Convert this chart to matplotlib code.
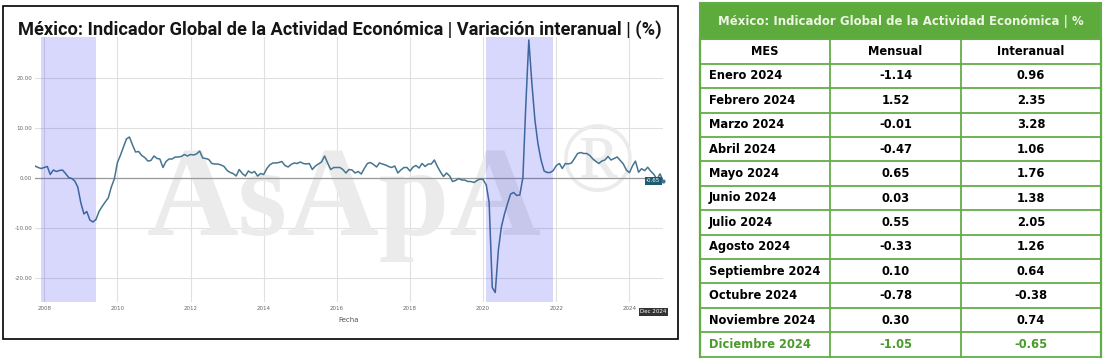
import matplotlib
matplotlib.use('Agg')
import matplotlib.pyplot as plt
import matplotlib.dates as mdates
import matplotlib.ticker as mticker
from matplotlib.patches import Rectangle
import pandas as pd

# ---------------- data ----------------
start_month = '2007-10-01'
igae_yoy = [
    2.3, 2.0, 1.8,                                                   # 2007 Oct-Dec
    2.0, 2.2, 0.6, 1.5, 1.2, 1.4, 1.5, 0.8, 0.0, -0.2, -0.7, -1.9,   # 2008
    -5.1, -7.3, -6.8, -8.5, -8.9, -8.4, -6.8, -5.8, -4.9, -4.1, -1.9, -0.3,  # 2009
    3.0, 4.5, 6.0, 7.7, 8.1, 6.5, 5.1, 5.2, 4.4, 4.0, 3.3, 3.4,      # 2010
    4.3, 3.8, 3.7, 2.0, 3.2, 3.7, 3.7, 4.1, 4.1, 4.2, 4.6, 4.3,      # 2011
    4.6, 4.5, 4.7, 5.3, 3.9, 3.8, 3.6, 2.8, 2.7, 2.7, 2.5, 2.2,      # 2012
    1.4, 1.0, 0.8, 0.3, 1.6, 0.8, 0.3, 1.3, 0.9, 1.2, 0.3, 0.8,      # 2013
    0.6, 1.8, 2.5, 2.9, 2.9, 3.0, 3.2, 2.4, 2.1, 2.6, 2.9, 2.8,      # 2014
    3.1, 2.8, 2.7, 2.8, 1.6, 2.3, 2.7, 3.1, 4.3, 2.9, 1.6, 2.0,      # 2015
    2.0, 2.0, 1.6, 0.9, 1.6, 1.5, 0.9, 1.2, 0.7, 1.8, 2.8, 3.0,      # 2016
    2.6, 2.1, 2.9, 2.7, 2.5, 2.2, 2.0, 2.3, 0.9, 1.5, 2.0, 2.0,      # 2017
    1.3, 2.1, 2.4, 1.9, 2.8, 2.2, 2.7, 2.7, 3.5, 2.2, 1.1, 0.2,      # 2018
    0.9, 0.3, -0.8, -0.6, -0.2, -0.5, -0.5, -0.8, -0.8, -1.0, -0.6, -0.3,  # 2019
    -0.4, -1.5, -5.0, -22.0, -23.0, -14.5, -9.9, -7.3, -5.2, -3.3, -3.0, -3.6,  # 2020
    -3.5, 0.0, 14.0, 27.5, 19.0, 11.5, 6.8, 3.5, 1.3, 1.0, 1.0, 1.4,  # 2021
    2.4, 2.8, 1.8, 2.8, 2.7, 2.9, 3.8, 4.8, 5.0, 4.8, 4.8, 4.4,      # 2022
    3.7, 3.2, 2.8, 3.3, 3.5, 4.2, 3.5, 3.8, 4.1, 3.4, 2.7, 1.5,      # 2023
    0.96, 2.35, 3.28, 1.06, 1.76, 1.38, 2.05, 1.26, 0.64, -0.38, 0.74, -0.65,  # 2024
]
shaded_periods = [('2007-12-01', '2009-06-01'), ('2020-02-01', '2021-12-01')]
y_ticks = [-20, -10, 0, 10, 20]
x_tick_years = list(range(2008, 2025, 2))

chart_title = 'México: Indicador Global de la Actividad Económica | Variación interanual | (%)'
x_label = 'Fecha'
end_date_label = 'Dec 2024'
watermark = 'AsApA'

table_title = 'México: Indicador Global de la Actividad Económica | %'
table_columns = ['MES', 'Mensual', 'Interanual']
table_months = ['Enero 2024', 'Febrero 2024', 'Marzo 2024', 'Abril 2024', 'Mayo 2024',
                'Junio 2024', 'Julio 2024', 'Agosto 2024', 'Septiembre 2024',
                'Octubre 2024', 'Noviembre 2024', 'Diciembre 2024']
table_mensual = [-1.14, 1.52, -0.01, -0.47, 0.65, 0.03, 0.55, -0.33, 0.10, -0.78, 0.30, -1.05]
table_interanual = [0.96, 2.35, 3.28, 1.06, 1.76, 1.38, 2.05, 1.26, 0.64, -0.38, 0.74, -0.65]

# ---------------- figure ----------------
W, H = 1110, 362
fig = plt.figure(figsize=(W / 100, H / 100), dpi=100)
renderer = fig.canvas.get_renderer()


def fit_width(t, target):
    w = t.get_window_extent(renderer).width
    t.set_fontsize(t.get_fontsize() * target / w)


dates = pd.date_range(start_month, periods=len(igae_yoy), freq='MS')

# chart axes (pixel layout)
L, R, T, B = 35, 663, 37, 302
ax = fig.add_axes([L / W, 1 - B / H, (R - L) / W, (B - T) / H])
ax.set_axisbelow(True)
ax.plot(dates, igae_yoy, color='#45758f', lw=1.1, zorder=2)
for s, e in shaded_periods:
    ax.axvspan(pd.Timestamp(s), pd.Timestamp(e), color=(0.1, 0.1, 0.95), alpha=0.17, lw=0, zorder=3)
ax.axhline(0, color='#9a9a9a', lw=0.9, zorder=1.5)
ax.set_xlim(dates[0], dates[-1])
ax.set_ylim(-24.9, 28.1)
ax.set_yticks(y_ticks)
ax.yaxis.set_major_formatter(mticker.FormatStrFormatter('%.2f'))
ax.set_xticks([pd.Timestamp(f'{y}-01-01') for y in x_tick_years])
ax.xaxis.set_major_formatter(mdates.DateFormatter('%Y'))
ax.tick_params(axis='both', length=0, labelsize=4, colors='#666666')
ax.tick_params(axis='x', pad=3)
ax.tick_params(axis='y', pad=2)
ax.grid(True, color='#e0e0e0', lw=0.8)
for sp in ax.spines.values():
    sp.set_visible(False)
ax.set_xlabel(x_label, fontsize=5, color='#555555', labelpad=4)

# watermark (under the line)
wm_color = '#ebebeb'
wm = ax.text(147 / W, 1 - 235 / H, watermark, transform=fig.transFigure, fontsize=90,
             family='Liberation Serif', fontweight='bold', color=wm_color,
             ha='left', va='baseline', zorder=1)
fit_width(wm, 395)
reg = ax.text(598 / W, 1 - 167 / H, '®', transform=fig.transFigure, fontsize=60,
              family='Liberation Serif', color=wm_color, ha='center', va='center', zorder=1)
fit_width(reg, 76)

# end labels
last_date, last_val = dates[-1], igae_yoy[-1]
last_num = mdates.date2num(last_date)
ax.annotate(f'{last_val:.2f}', xy=(last_num, last_val), xytext=(-2, 0), textcoords='offset points',
            ha='right', va='center', fontsize=4, color='white', zorder=5,
            bbox=dict(boxstyle='square,pad=0.25', fc='#1d5b70', ec='none'))
ax.plot([last_date], [last_val], marker='o', ms=2, color='#45758f', zorder=5, clip_on=False)
ax.annotate(end_date_label, xy=(last_num, 0), xycoords=ax.get_xaxis_transform(),
            xytext=(-7, -7), textcoords='offset points', ha='center', va='center',
            fontsize=4, color='white', zorder=5, annotation_clip=False,
            bbox=dict(boxstyle='square,pad=0.25', fc='#333333', ec='none'))

# overlay axes in pixel coordinates for frame, title and table
ov = fig.add_axes([0, 0, 1, 1])
ov.set_xlim(0, W)
ov.set_ylim(H, 0)
ov.axis('off')
ov.patch.set_visible(False)

ov.add_patch(Rectangle((3, 6), 675, 333, fill=False, ec='black', lw=1.2))
tt = ov.text(340, 30, chart_title, ha='center', va='center', fontsize=12,
             family='Roboto', fontweight='bold', color='#151515')
fit_width(tt, 640)

# table
green = '#5cab3c'
line_green = '#63ad46'
col_edges = [700, 830, 961, 1101]
top, head_bot = 3, 39.3
row_h = (356.7 - head_bot) / 13
ov.add_patch(Rectangle((col_edges[0], top), col_edges[-1] - col_edges[0], head_bot - top,
                       fc=green, ec=line_green, lw=1.5))
ht = ov.text((col_edges[0] + col_edges[-1]) / 2, (top + head_bot) / 2 + 0.5, table_title,
             ha='center', va='center', fontsize=8, family='DejaVu Sans', fontweight='bold',
             color='#eef5e2')
fit_width(ht, 366)

bottom = head_bot + 13 * row_h
for i in range(14):
    y = head_bot + i * row_h
    ov.plot([col_edges[0], col_edges[-1]], [y, y], color=line_green, lw=1.3)
for x in col_edges:
    ov.plot([x, x], [head_bot, bottom], color=line_green, lw=1.6 if x in (col_edges[0], col_edges[-1]) else 1.3)

# measure body font size
probe = ov.text(0, 0, 'Septiembre 2024', fontsize=8, family='DejaVu Sans', fontweight='bold')
fit_width(probe, 111)
body_fs = probe.get_fontsize()
probe.remove()

centers = [(col_edges[i] + col_edges[i + 1]) / 2 for i in range(3)]
yh = head_bot + row_h / 2
for c, name in zip(centers, table_columns):
    ov.text(c, yh, name, ha='center', va='center', fontsize=body_fs, family='DejaVu Sans',
            fontweight='bold', color='black')
for i, (m, a, b) in enumerate(zip(table_months, table_mensual, table_interanual)):
    y = head_bot + (i + 1.5) * row_h
    col = '#4a9a2c' if i == len(table_months) - 1 else 'black'
    ov.text(709, y, m, ha='left', va='center', fontsize=body_fs, family='DejaVu Sans',
            fontweight='bold', color=col)
    ov.text(centers[1], y, f'{a:.2f}', ha='center', va='center', fontsize=body_fs,
            family='DejaVu Sans', fontweight='bold', color=col)
    ov.text(centers[2], y, f'{b:.2f}', ha='center', va='center', fontsize=body_fs,
            family='DejaVu Sans', fontweight='bold', color=col)

fig.savefig('out.png', dpi=100)
